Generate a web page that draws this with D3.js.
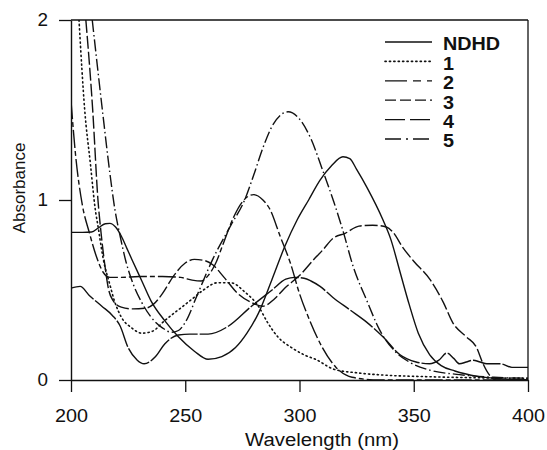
<!DOCTYPE html>
<html><head><meta charset="utf-8">
<script src="https://cdn.jsdelivr.net/npm/d3@7/dist/d3.min.js"></script>
<style>
html,body{margin:0;padding:0;background:#fff;}
svg{display:block;font-family:"Liberation Sans",Arial,sans-serif;}
</style></head>
<body>
<svg id="chart" width="547" height="450"></svg>
<script>
// ---- data (wavelength nm, absorbance) ----
const xTicks = [200, 250, 300, 350, 400];
const yTicks = [0, 1, 2];
const seriesNames = ["NDHD", "1", "2", "3", "4", "5"];

const ndhd = [[200,0.82],[205,0.82],[209,0.822],[212,0.845],[215,0.868],[217,0.87],[219.5,0.85],[222,0.8],[224.5,0.73],[227,0.66],[231,0.55],[235,0.44],[241,0.33],[247,0.24],[254,0.16],[260,0.115],[266,0.13],[272,0.18],[277,0.26],[282,0.37],[288,0.56],[293.5,0.74],[299,0.89],[304,1.0],[309,1.11],[314,1.19],[319,1.24],[322,1.23],[325,1.17],[329.5,1.07],[336.5,0.89],[340,0.78],[344,0.6],[348,0.42],[352,0.26],[357,0.14],[362,0.08],[368,0.05],[378,0.02],[390,0.005],[400,0]];

const comp1 = [[203.5,2.0],[206,1.5],[208.5,1.2],[210.5,0.96],[212,0.84],[214,0.68],[217,0.53],[219,0.44],[222,0.35],[226.5,0.29],[231,0.26],[235.5,0.27],[241,0.33],[247,0.39],[253,0.45],[258,0.5],[264,0.54],[270,0.54],[276,0.49],[282,0.41],[286,0.32],[290.5,0.24],[296.5,0.18],[302,0.14],[307,0.115],[315,0.06],[325,0.04],[336,0.028],[357,0.018],[380,0.012],[400,0.01]];

const comp2 = [[200,1.55],[202,1.25],[205,0.97],[208,0.82],[211,0.69],[214,0.6],[217,0.57],[222,0.57],[230,0.575],[240,0.575],[248,0.57],[253,0.555],[257,0.55],[260,0.58],[263,0.64],[267,0.77],[271,0.9],[275,0.99],[280,1.03],[284,1.0],[287,0.95],[291.5,0.8],[296,0.65],[300,0.48],[304.5,0.33],[310,0.18],[316,0.07],[323,0.015],[335,0],[400,0]];

const comp3 = [[206.5,2.0],[209.5,1.5],[211.8,1.0],[213.3,0.8],[215,0.62],[216.5,0.5],[218.5,0.44],[222,0.405],[227,0.395],[233,0.4],[236,0.42],[240,0.48],[245,0.58],[250,0.65],[254,0.67],[258,0.665],[262,0.64],[267,0.57],[273,0.48],[279,0.43],[284,0.41],[289,0.45],[293.5,0.51],[300,0.58],[307,0.68],[310,0.72],[315,0.79],[320,0.815],[326,0.855],[332,0.86],[338,0.85],[341,0.82],[345,0.74],[350,0.66],[357,0.56],[363,0.43],[367,0.32],[373,0.24],[377.5,0.18],[380,0.1],[383,0.03],[386,0],[400,0]];

const comp4 = [[200,0.51],[204,0.52],[208,0.47],[213.5,0.41],[218,0.36],[221.5,0.3],[225,0.18],[229,0.11],[232,0.09],[237,0.13],[241,0.2],[247,0.25],[252,0.255],[260,0.255],[269,0.3],[279,0.41],[288,0.5],[294,0.56],[298,0.57],[302,0.565],[305,0.55],[309,0.52],[314.5,0.46],[322,0.39],[329.5,0.32],[336.5,0.24],[344,0.14],[351,0.1],[357,0.09],[361,0.11],[364.5,0.15],[367.5,0.12],[370,0.09],[373,0.1],[376,0.11],[379,0.1],[382,0.09],[388,0.09],[393,0.07],[400,0.07]];

const comp5 = [[209.3,2.0],[214,1.47],[217,1.15],[219.3,0.94],[221.5,0.8],[224,0.66],[227,0.54],[231,0.43],[235,0.35],[240,0.29],[244,0.265],[247,0.275],[250,0.32],[255.5,0.48],[262,0.67],[270,0.86],[276,1.0],[280,1.14],[284,1.29],[288,1.41],[292,1.475],[295,1.49],[300,1.45],[305,1.34],[310,1.17],[315,0.99],[319,0.83],[323.5,0.63],[329.5,0.44],[335,0.28],[341,0.17],[348,0.1],[357,0.055],[370,0.03],[385,0.015],[400,0.01]];

const seriesData = [ndhd, comp1, comp2, comp3, comp4, comp5];
const dashes = [null, "1.2,3.2", "18,3,5,3", "13,3", "28,2", "12,3,1.5,3"];
const legendDashes = [null, "1.2,3.2", "22,6,8,6", "11,4", "20,5", "16,5,2,5"];

// ---- layout ----
const svg = d3.select("#chart");
const x = d3.scaleLinear().domain([200, 400]).range([71, 528]);
const y = d3.scaleLinear().domain([0, 2]).range([380, 20]);
const ink = "#111";
const fmt = d3.format("d");

svg.append("clipPath").attr("id","plot").append("rect")
  .attr("x", 71).attr("y", 20).attr("width", 457).attr("height", 360);

// frame (top/right)
svg.append("line").attr("x1",71).attr("x2",528).attr("y1",20).attr("y2",20)
  .attr("stroke",ink).attr("stroke-width",1.3);
svg.append("line").attr("x1",528).attr("x2",528).attr("y1",20).attr("y2",380)
  .attr("stroke",ink).attr("stroke-width",1.3);

// axes
const gx = svg.append("g").attr("transform","translate(0,380)")
  .call(d3.axisBottom(x).tickValues(xTicks).tickFormat(fmt).tickSize(12).tickSizeOuter(0).tickPadding(17));
const gy = svg.append("g").attr("transform","translate(71,0)")
  .call(d3.axisLeft(y).tickValues(yTicks).tickFormat(fmt).tickSize(12).tickSizeOuter(0).tickPadding(10));
[gx, gy].forEach(g => {
  g.select(".domain").attr("stroke", ink).attr("stroke-width", 1.4);
  g.selectAll(".tick line").attr("stroke", ink).attr("stroke-width", 1.3);
  g.selectAll(".tick text").attr("fill", ink).style("font-size","18px")
    .style("font-family",'"Liberation Sans",Arial,sans-serif');
});
gx.selectAll(".tick text").attr("transform","scale(1.1,1)");
gy.selectAll(".tick text").attr("x",-22).attr("transform","scale(1.05,1)");

// axis titles
svg.append("text").attr("x", 0).attr("y", 0)
  .attr("transform","translate(322,446) scale(1.13,1)")
  .attr("text-anchor","middle").attr("fill",ink).style("font-size","18px")
  .text("Wavelength (nm)");
svg.append("text")
  .attr("transform","translate(25,188) rotate(-90)")
  .attr("text-anchor","middle").attr("fill",ink).style("font-size","17px")
  .text("Absorbance");

// curves
const line = d3.line().x(d => x(d[0])).y(d => y(d[1])).curve(d3.curveMonotoneX);
const gc = svg.append("g").attr("clip-path","url(#plot)");
seriesData.forEach((s, i) => {
  gc.append("path").datum(s).attr("d", line)
    .attr("fill","none").attr("stroke", ink).attr("stroke-width", i === 1 ? 1.6 : 1.4)
    .attr("stroke-linecap", i === 1 ? "round" : "butt")
    .attr("stroke-dasharray", dashes[i]);
});

// legend
const lg = svg.append("g");
seriesNames.forEach((n, i) => {
  const cy = 44 + i * 19.4;
  lg.append("line").attr("x1",385).attr("x2",432).attr("y1",cy-2).attr("y2",cy-2)
    .attr("stroke",ink).attr("stroke-width", i === 1 ? 1.6 : 1.3)
    .attr("stroke-linecap", i === 1 ? "round" : "butt")
    .attr("stroke-dasharray", legendDashes[i]);
  lg.append("text").attr("x",0).attr("y",0)
    .attr("transform",`translate(443,${cy}) scale(1.1,1)`)
    .attr("dy","0.36em").attr("fill",ink)
    .style("font-size","18px").style("font-weight","bold").text(n);
});
</script>
</body></html>
